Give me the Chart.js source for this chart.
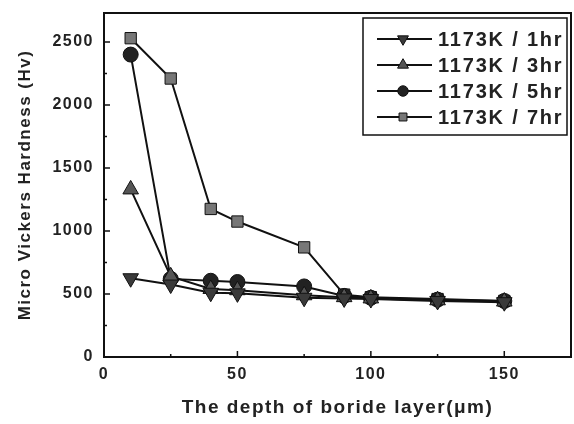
<!DOCTYPE html>
<html>
<head>
<meta charset="utf-8">
<script src="https://cdn.jsdelivr.net/npm/chart.js@4/dist/chart.umd.min.js"></script>
<style>
  html, body { margin: 0; padding: 0; background: #fff; }
  #wrap { width: 574px; height: 424px; }
</style>
</head>
<body>
<div id="wrap"><canvas id="hardnessChart" width="574" height="424"></canvas></div>
<script>
// depth of boride layer (um) and hardness readings (Hv)
const depth = [10, 25, 40, 50, 75, 90, 100, 125, 150];
const hv1hr = [625, 575, 510, 505, 470, 465, 460, 445, 435];
const hv3hr = [1330, 640, 540, 530, 490, 475, 465, 450, 440];
const hv5hr = [2400, 620, 605, 595, 560, 485, 470, 455, 445];
const hv7hr = [2530, 2210, 1175, 1075, 870, 495, 475, 460, 445];

const seriesLabels = ["1173K / 1hr", "1173K / 3hr", "1173K / 5hr", "1173K / 7hr"];
const seriesValues = [hv1hr, hv3hr, hv5hr, hv7hr];
// marker look for each series
const markerStyle = [
    { pointStyle: "triangle", rotation: 180, radius: 9, fill: "#3a3a3a" },
    { pointStyle: "triangle", rotation: 0, radius: 9, fill: "#555555" },
    { pointStyle: "circle", rotation: 0, radius: 7.5, fill: "#222222" },
    { pointStyle: "rect", rotation: 0, radius: 8, fill: "#777777" }
];

const xTicks = [0, 50, 100, 150];
const yTicks = [0, 500, 1000, 1500, 2000, 2500];

const textColor = "#222";
const fontFamily = "Arial, 'Liberation Sans', Helvetica, sans-serif";

const datasets = seriesLabels.map((label, i) => ({
    label: label,
    data: depth.map((d, j) => ({ x: d, y: seriesValues[i][j] })),
    showLine: true,
    borderColor: "#111",
    borderWidth: 2,
    pointStyle: markerStyle[i].pointStyle,
    rotation: markerStyle[i].rotation,
    pointRadius: markerStyle[i].radius,
    pointBackgroundColor: markerStyle[i].fill,
    pointBorderColor: "#111",
    pointBorderWidth: 1
}));

// spread the letters a bit, the original lettering is wide
const spacingPlugin = {
    id: "spacing",
    beforeDraw(chart) {
        chart.ctx.letterSpacing = "1.5px";
    }
};

// frame, inward tick marks and the boxed legend inside the plot
const framePlugin = {
    id: "frame",
    afterDraw(chart) {
        const ctx = chart.ctx;
        const area = chart.chartArea;
        const xs = chart.scales.x;
        const ys = chart.scales.y;
        ctx.save();
        ctx.strokeStyle = "#111";
        ctx.lineWidth = 2;
        ctx.strokeRect(area.left, area.top, area.right - area.left, area.bottom - area.top);

        ctx.lineWidth = 1.5;
        ctx.beginPath();
        for (let v = 0; v <= 175; v += 25) {
            const px = xs.getPixelForValue(v);
            const len = v % 50 === 0 ? 6 : 3;
            ctx.moveTo(px, area.bottom);
            ctx.lineTo(px, area.bottom - len);
        }
        for (let v = 0; v <= 2700; v += 250) {
            const py = ys.getPixelForValue(v);
            const len = v % 500 === 0 ? 6 : 3;
            ctx.moveTo(area.left, py);
            ctx.lineTo(area.left + len, py);
        }
        ctx.stroke();

        // legend
        const boxRight = area.right - 4;
        const boxLeft = boxRight - 204;
        const boxTop = area.top + 5;
        const rowH = 26;
        ctx.lineWidth = 1.5;
        ctx.strokeRect(boxLeft, boxTop, boxRight - boxLeft, 117);
        ctx.font = "bold 20px " + fontFamily;
        ctx.letterSpacing = "1.8px";
        ctx.textBaseline = "middle";
        ctx.textAlign = "left";
        seriesLabels.forEach((label, i) => {
            const y = boxTop + 21 + i * rowH;
            ctx.strokeStyle = "#111";
            ctx.lineWidth = 2;
            ctx.beginPath();
            ctx.moveTo(boxLeft + 14, y);
            ctx.lineTo(boxLeft + 69, y);
            ctx.stroke();
            ctx.fillStyle = markerStyle[i].fill;
            ctx.lineWidth = 1;
            Chart.helpers.drawPoint(ctx, {
                pointStyle: markerStyle[i].pointStyle,
                rotation: markerStyle[i].rotation,
                radius: markerStyle[i].radius * 0.7,
                borderWidth: 1
            }, boxLeft + 40, y);
            ctx.fillStyle = textColor;
            ctx.fillText(label, boxLeft + 75, y + 1);
        });
        ctx.restore();
    }
};

function noPadding(scale) {
    scale.paddingTop = 0;
    scale.paddingBottom = 0;
    scale.paddingLeft = 0;
    scale.paddingRight = 0;
}

const ctx = document.getElementById("hardnessChart").getContext("2d");

const hardnessChart = new Chart(ctx, {
    type: "scatter",
    data: { datasets: datasets },
    options: {
        responsive: false,
        animation: false,
        devicePixelRatio: 1,
        layout: { autoPadding: false, padding: { left: 0, right: 3, top: 13, bottom: 0 } },
        plugins: {
            legend: { display: false },
            tooltip: { enabled: false }
        },
        scales: {
            x: {
                type: "linear",
                min: 0,
                max: 175,
                afterFit(scale) { scale.height = 67; noPadding(scale); },
                afterBuildTicks(scale) { scale.ticks = xTicks.map(v => ({ value: v })); },
                grid: { display: false, drawTicks: false },
                border: { display: false },
                ticks: {
                    padding: 8,
                    color: textColor,
                    callback: (value) => String(value),
                    font: { family: fontFamily, size: 16, weight: "bold" }
                },
                title: {
                    display: true,
                    text: "The depth of boride layer(\u03bcm)",
                    color: textColor,
                    padding: { top: 0, bottom: 5 },
                    font: { family: fontFamily, size: 19, weight: "bold" }
                }
            },
            y: {
                type: "linear",
                min: 0,
                max: 2730,
                afterFit(scale) { scale.width = 104; noPadding(scale); },
                afterBuildTicks(scale) { scale.ticks = yTicks.map(v => ({ value: v })); },
                grid: { display: false, drawTicks: false },
                border: { display: false },
                ticks: {
                    padding: 10,
                    color: textColor,
                    callback: (value) => String(value),
                    font: { family: fontFamily, size: 16, weight: "bold" }
                },
                title: {
                    display: true,
                    text: "Micro Vickers Hardness (Hv)",
                    color: textColor,
                    padding: { top: 15, bottom: 0 },
                    font: { family: fontFamily, size: 17, weight: "bold" }
                }
            }
        }
    },
    plugins: [spacingPlugin, framePlugin]
});
</script>
</body>
</html>
